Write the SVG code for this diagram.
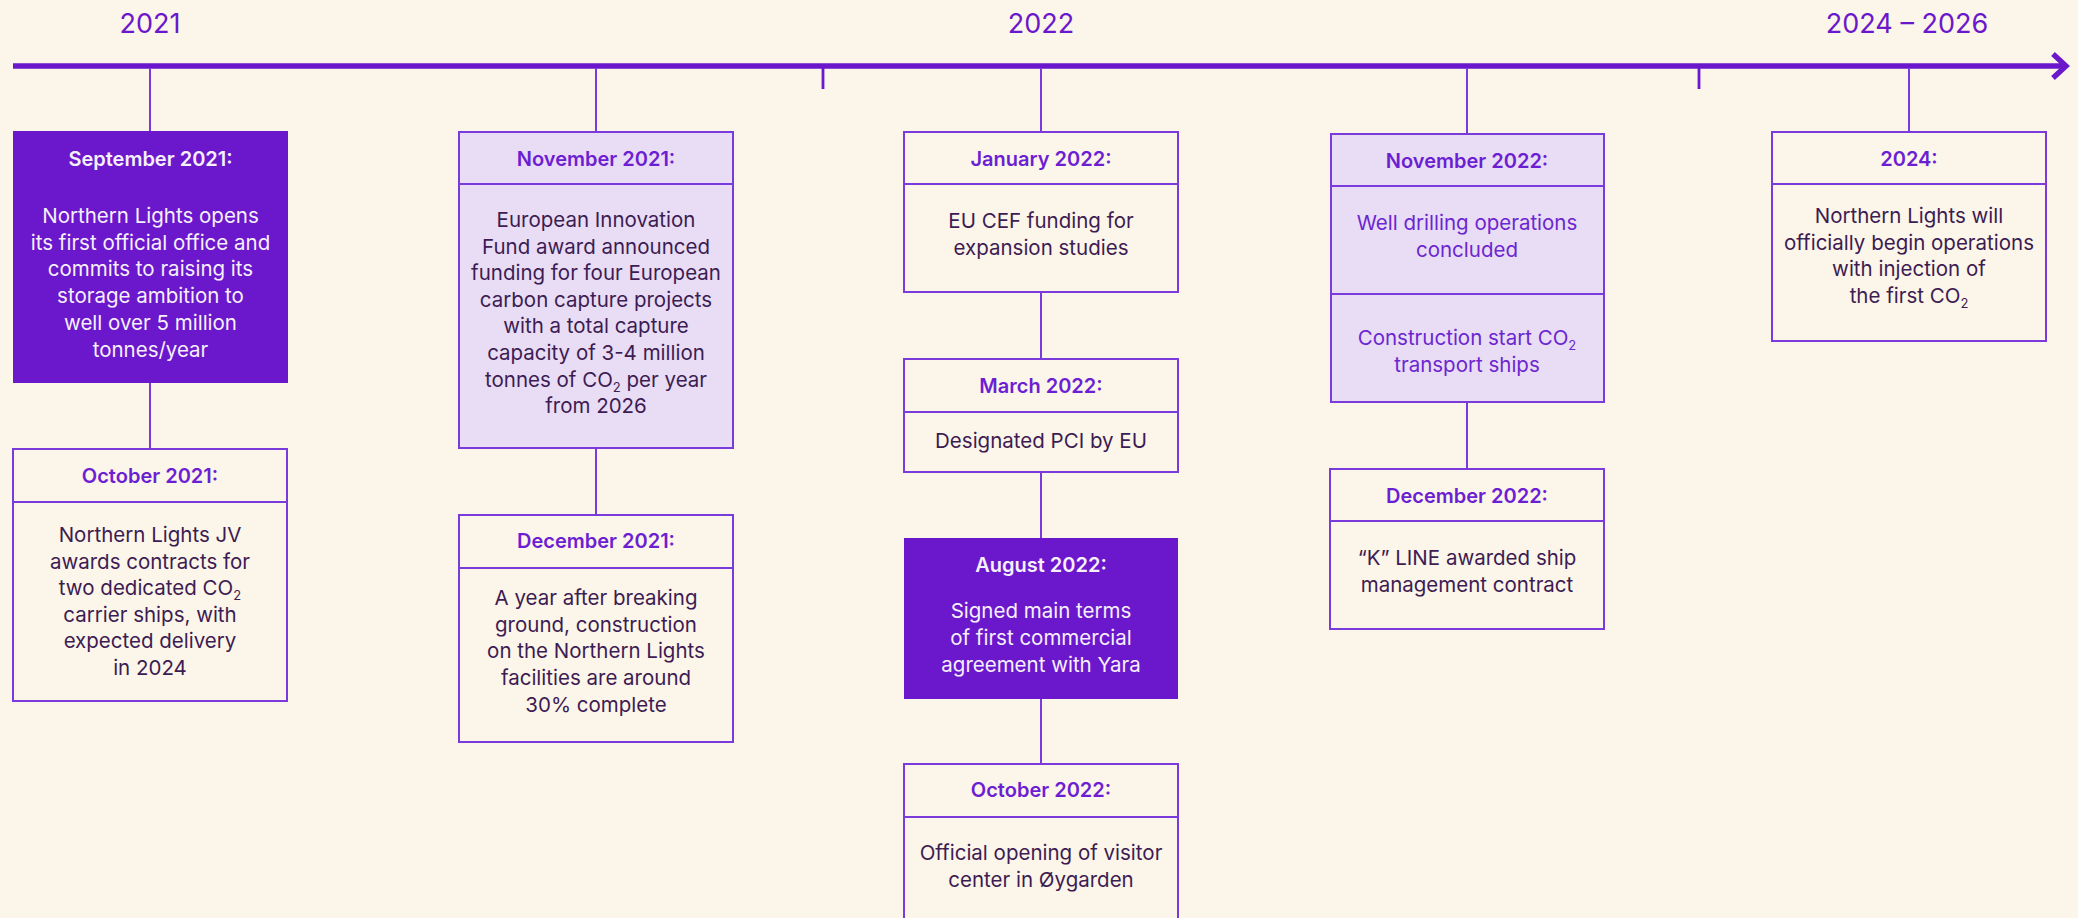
<svg xmlns="http://www.w3.org/2000/svg" width="2078" height="918" viewBox="0 0 2078 918">
  <defs>
    <style>
      .bg { fill: #fcf5e9; }
      .axis { stroke: #6b17cb; stroke-width: 5.4; fill: none; }
      .tick { stroke: #6b17cb; stroke-width: 2.8; }
      .year { font-family: Inter, "Liberation Sans", sans-serif; font-size: 27px; fill: #6b17cb; text-anchor: middle; }
      .link { stroke: #7b3bdc; stroke-width: 2; }
      .box { fill: #fcf5e9; stroke: #7b3bdc; stroke-width: 2; }
      .box-lt { fill: #e9dcf5; stroke: #7b3bdc; stroke-width: 2; }
      .box-dk { fill: #6b17cb; }
      .div { stroke: #7b3bdc; stroke-width: 2; }
      .ttl { font-family: Inter, "Liberation Sans", sans-serif; font-size: 20px; font-weight: 600; fill: #6c1fd2; text-anchor: middle; }
      .ttl-w { font-family: Inter, "Liberation Sans", sans-serif; font-size: 20px; font-weight: 600; fill: #f6effc; text-anchor: middle; }
      .txt { font-family: Inter, "Liberation Sans", sans-serif; font-size: 20.5px; fill: #3c1c52; text-anchor: middle; }
      .txt-w { font-family: Inter, "Liberation Sans", sans-serif; font-size: 20.5px; fill: #f6effc; text-anchor: middle; }
      .txt-p { font-family: Inter, "Liberation Sans", sans-serif; font-size: 20.5px; fill: #6c26d0; text-anchor: middle; }
      .sub { font-size: 13px; }
    </style>
  </defs>

  <rect class="bg" x="0" y="0" width="2078" height="918"/>

  <!-- time axis -->
  <g id="axis">
    <line class="axis" x1="13" y1="66" x2="2066" y2="66"/>
    <polyline class="axis" points="2053,54 2066,66 2053,78"/>
    <line class="tick" x1="823" y1="66" x2="823" y2="89"/>
    <line class="tick" x1="1699" y1="66" x2="1699" y2="89"/>
    <text class="year" x="150" y="33">2021</text>
    <text class="year" x="1041" y="33">2022</text>
    <text class="year" x="1907" y="33">2024 – 2026</text>
  </g>

  <!-- connectors -->
  <g id="connectors">
    <line class="link" x1="150" y1="68" x2="150" y2="131"/>
    <line class="link" x1="150" y1="383" x2="150" y2="449"/>
    <line class="link" x1="596" y1="68" x2="596" y2="132"/>
    <line class="link" x1="596" y1="448" x2="596" y2="515"/>
    <line class="link" x1="1041" y1="68" x2="1041" y2="132"/>
    <line class="link" x1="1041" y1="292" x2="1041" y2="359"/>
    <line class="link" x1="1041" y1="472" x2="1041" y2="538"/>
    <line class="link" x1="1041" y1="699" x2="1041" y2="764"/>
    <line class="link" x1="1467" y1="68" x2="1467" y2="134"/>
    <line class="link" x1="1467" y1="402" x2="1467" y2="469"/>
    <line class="link" x1="1909" y1="68" x2="1909" y2="132"/>
  </g>

  <!-- September 2021 -->
  <g id="sep-2021">
    <rect class="box-dk" x="13" y="131" width="275" height="252"/>
    <text class="ttl-w" x="150.5" y="166">September 2021:</text>
    <text class="txt-w" x="150.5" y="223">Northern Lights opens</text>
    <text class="txt-w" x="150.5" y="249.7">its first official office and</text>
    <text class="txt-w" x="150.5" y="276.4">commits to raising its</text>
    <text class="txt-w" x="150.5" y="303">storage ambition to</text>
    <text class="txt-w" x="150.5" y="329.8">well over 5 million</text>
    <text class="txt-w" x="150.5" y="356.5">tonnes/year</text>
  </g>

  <!-- October 2021 -->
  <g id="oct-2021">
    <rect class="box" x="13" y="449" width="274" height="252"/>
    <line class="div" x1="13" y1="502" x2="287" y2="502"/>
    <text class="ttl" x="150" y="483">October 2021:</text>
    <text class="txt" x="150" y="542">Northern Lights JV</text>
    <text class="txt" x="150" y="568.5">awards contracts for</text>
    <text class="txt" x="150" y="595">two dedicated CO<tspan class="sub" dy="5">2</tspan></text>
    <text class="txt" x="150" y="621.5">carrier ships, with</text>
    <text class="txt" x="150" y="648">expected delivery</text>
    <text class="txt" x="150" y="674.5">in 2024</text>
  </g>

  <!-- November 2021 -->
  <g id="nov-2021">
    <rect class="box-lt" x="459" y="132" width="274" height="316"/>
    <line class="div" x1="459" y1="184" x2="733" y2="184"/>
    <text class="ttl" x="596" y="166">November 2021:</text>
    <text class="txt" x="596" y="227">European Innovation</text>
    <text class="txt" x="596" y="253.6">Fund award announced</text>
    <text class="txt" x="596" y="280.2">funding for four European</text>
    <text class="txt" x="596" y="306.8">carbon capture projects</text>
    <text class="txt" x="596" y="333.4">with a total capture</text>
    <text class="txt" x="596" y="360">capacity of 3-4 million</text>
    <text class="txt" x="596" y="386.6">tonnes of CO<tspan class="sub" dy="5">2</tspan><tspan dy="-5"> per year</tspan></text>
    <text class="txt" x="596" y="413.2">from 2026</text>
  </g>

  <!-- December 2021 -->
  <g id="dec-2021">
    <rect class="box" x="459" y="515" width="274" height="227"/>
    <line class="div" x1="459" y1="568" x2="733" y2="568"/>
    <text class="ttl" x="596" y="548">December 2021:</text>
    <text class="txt" x="596" y="605">A year after breaking</text>
    <text class="txt" x="596" y="631.7">ground, construction</text>
    <text class="txt" x="596" y="658.4">on the Northern Lights</text>
    <text class="txt" x="596" y="685.1">facilities are around</text>
    <text class="txt" x="596" y="711.8">30% complete</text>
  </g>

  <!-- January 2022 -->
  <g id="jan-2022">
    <rect class="box" x="904" y="132" width="274" height="160"/>
    <line class="div" x1="904" y1="184" x2="1178" y2="184"/>
    <text class="ttl" x="1041" y="166">January 2022:</text>
    <text class="txt" x="1041" y="228">EU CEF funding for</text>
    <text class="txt" x="1041" y="255">expansion studies</text>
  </g>

  <!-- March 2022 -->
  <g id="mar-2022">
    <rect class="box" x="904" y="359" width="274" height="113"/>
    <line class="div" x1="904" y1="412" x2="1178" y2="412"/>
    <text class="ttl" x="1041" y="393">March 2022:</text>
    <text class="txt" x="1041" y="448">Designated PCI by EU</text>
  </g>

  <!-- August 2022 -->
  <g id="aug-2022">
    <rect class="box-dk" x="904" y="538" width="274" height="161"/>
    <text class="ttl-w" x="1041" y="572">August 2022:</text>
    <text class="txt-w" x="1041" y="618">Signed main terms</text>
    <text class="txt-w" x="1041" y="645">of first commercial</text>
    <text class="txt-w" x="1041" y="672">agreement with Yara</text>
  </g>

  <!-- October 2022 -->
  <g id="oct-2022">
    <rect class="box" x="904" y="764" width="274" height="180"/>
    <line class="div" x1="904" y1="817" x2="1178" y2="817"/>
    <text class="ttl" x="1041" y="797">October 2022:</text>
    <text class="txt" x="1041" y="860">Official opening of visitor</text>
    <text class="txt" x="1041" y="887">center in Øygarden</text>
  </g>

  <!-- November 2022 -->
  <g id="nov-2022">
    <rect class="box-lt" x="1331" y="134" width="273" height="268"/>
    <line class="div" x1="1331" y1="186" x2="1604" y2="186"/>
    <line class="div" x1="1331" y1="294" x2="1604" y2="294"/>
    <text class="ttl" x="1467" y="168">November 2022:</text>
    <text class="txt-p" x="1467" y="230">Well drilling operations</text>
    <text class="txt-p" x="1467" y="257">concluded</text>
    <text class="txt-p" x="1467" y="345">Construction start CO<tspan class="sub" dy="5">2</tspan></text>
    <text class="txt-p" x="1467" y="372">transport ships</text>
  </g>

  <!-- December 2022 -->
  <g id="dec-2022">
    <rect class="box" x="1330" y="469" width="274" height="160"/>
    <line class="div" x1="1330" y1="521" x2="1604" y2="521"/>
    <text class="ttl" x="1467" y="503">December 2022:</text>
    <text class="txt" x="1467" y="565">“K” LINE awarded ship</text>
    <text class="txt" x="1467" y="592">management contract</text>
  </g>

  <!-- 2024 -->
  <g id="y-2024">
    <rect class="box" x="1772" y="132" width="274" height="209"/>
    <line class="div" x1="1772" y1="184" x2="2046" y2="184"/>
    <text class="ttl" x="1909" y="166">2024:</text>
    <text class="txt" x="1909" y="223">Northern Lights will</text>
    <text class="txt" x="1909" y="249.7">officially begin operations</text>
    <text class="txt" x="1909" y="276.4">with injection of</text>
    <text class="txt" x="1909" y="303">the first CO<tspan class="sub" dy="5">2</tspan></text>
  </g>
</svg>
